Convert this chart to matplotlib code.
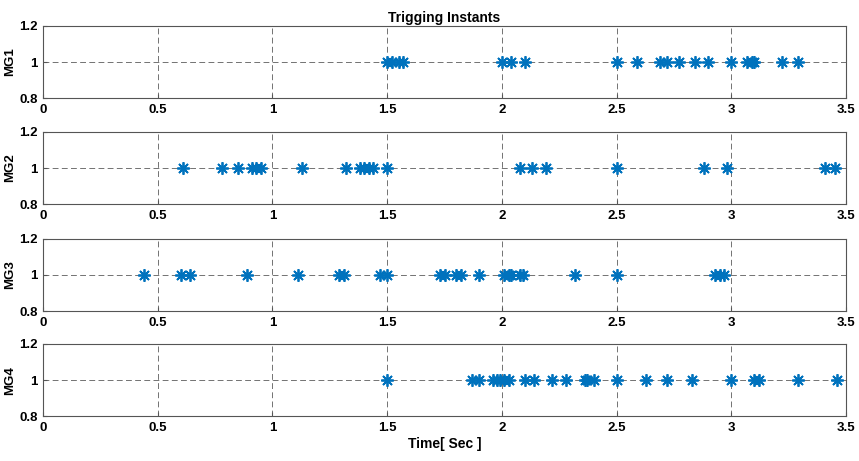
import matplotlib.pyplot as plt
from matplotlib.ticker import FixedLocator

# trigger instants (sec)
mg1 = [1.50, 1.52, 1.55, 1.57, 2.00, 2.04, 2.10, 2.50, 2.59, 2.69, 2.72, 2.77,
       2.84, 2.90, 3.00, 3.07, 3.09, 3.10, 3.22, 3.29]
mg2 = [0.61, 0.78, 0.85, 0.91, 0.93, 0.95, 1.13, 1.32, 1.38, 1.40, 1.42, 1.44,
       1.50, 2.08, 2.13, 2.19, 2.50, 2.88, 2.98, 3.41, 3.45]
mg3 = [0.44, 0.60, 0.64, 0.89, 1.11, 1.29, 1.31, 1.47, 1.50, 1.73, 1.75, 1.80,
       1.82, 1.90, 2.01, 2.03, 2.04, 2.08, 2.09, 2.32, 2.50, 2.93, 2.95, 2.97]
mg4 = [1.50, 1.87, 1.90, 1.96, 1.98, 1.99, 2.01, 2.03, 2.10, 2.14, 2.22, 2.28,
       2.36, 2.37, 2.40, 2.50, 2.63, 2.72, 2.83, 3.00, 3.10, 3.12, 3.29, 3.46]
series = [mg1, mg2, mg3, mg4]
names = ['MG1', 'MG2', 'MG3', 'MG4']
xticks = [0, 0.5, 1, 1.5, 2, 2.5, 3, 3.5]
yticks = [0.8, 1, 1.2]

plt.rcParams['font.family'] = ['Liberation Sans', 'DejaVu Sans']
plt.rcParams['font.weight'] = 'bold'

fig = plt.figure(figsize=(8.59, 4.61), dpi=100)
tops = [0.944, 0.714, 0.482, 0.254]
h = 0.157
for i, (vals, nm) in enumerate(zip(series, names)):
    ax = fig.add_axes([0.050, tops[i] - h, 0.935, h])
    ax.plot(vals, [1] * len(vals), linestyle='none', marker=(8, 2, 0),
            markersize=9, markeredgewidth=1.3, color='#0072BD')
    ax.set_xlim(0, 3.5)
    ax.set_ylim(0.8, 1.2)
    ax.xaxis.set_major_locator(FixedLocator(xticks))
    ax.yaxis.set_major_locator(FixedLocator(yticks))
    ax.set_xticklabels([('%g' % t) for t in xticks], fontsize=9.5, fontweight='bold')
    ax.set_yticklabels([('%g' % t) for t in yticks], fontsize=9.5, fontweight='bold')
    ax.grid(True, linestyle=(0, (7, 4)), color='#333333', linewidth=0.6, alpha=0.8)
    ax.tick_params(direction='in', length=3, color='#555555', pad=4)
    for s in ax.spines.values():
        s.set_color('#555555')
        s.set_linewidth(0.8)
    ax.set_ylabel(nm, fontsize=9.5, fontweight='bold', labelpad=2)
    if i == 0:
        ax.set_title('Trigging Instants', fontsize=10, fontweight='bold', pad=3)
    if i == 3:
        ax.set_xlabel('Time[ Sec ]', fontsize=10, fontweight='bold', labelpad=2)

fig.savefig('out.png', dpi=100)
